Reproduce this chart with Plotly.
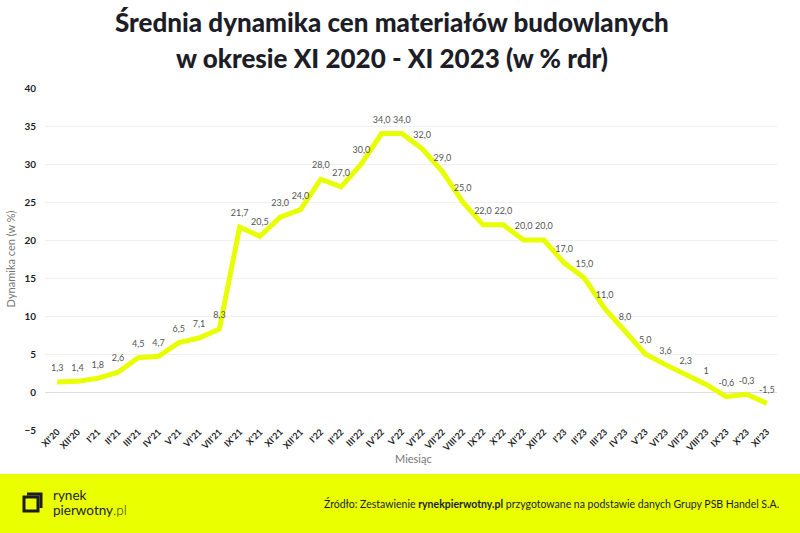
import plotly.graph_objects as go

miesiace = ["XI'20", "XII'20", "I'21", "II'21", "III'21", "IV'21", "V'21", "VI'21", "VII'21",
            "IX'21", "X'21", "XI'21", "XII'21", "I'22", "II'22", "III'22", "IV'22", "V'22",
            "VI'22", "VII'22", "VIII'22", "IX'22", "X'22", "XI'22", "XII'22", "I'23", "II'23",
            "III'23", "IV'23", "V'23", "VI'23", "VII'23", "VIII'23", "IX'23", "X'23", "XI'23"]
dynamika = [1.3, 1.4, 1.8, 2.6, 4.5, 4.7, 6.5, 7.1, 8.3, 21.7, 20.5, 23.0, 24.0, 28.0, 27.0,
            30.0, 34.0, 34.0, 32.0, 29.0, 25.0, 22.0, 22.0, 20.0, 20.0, 17.0, 15.0, 11.0, 8.0,
            5.0, 3.6, 2.3, 1.0, -0.6, -0.3, -1.5]
etykiety = ["1,3", "1,4", "1,8", "2,6", "4,5", "4,7", "6,5", "7,1", "8,3", "21,7", "20,5", "23,0",
            "24,0", "28,0", "27,0", "30,0", "34,0", "34,0", "32,0", "29,0", "25,0", "22,0", "22,0",
            "20,0", "20,0", "17,0", "15,0", "11,0", "8,0", "5,0", "3,6", "2,3", "1", "-0,6", "-0,3",
            "-1,5"]

W, H = 800, 533
L, R, T, B = 45, 23, 88, 103

def px(x):
    return (x - L) / (W - L - R)

def py(y):
    return (H - B - y) / (H - T - B)

ZOLTY = "#EAFF00"
CIEMNY = "#1d1d27"

fig = go.Figure()
fig.add_trace(go.Scatter(
    x=list(range(len(miesiace))), y=dynamika, mode="lines+markers+text",
    line=dict(color="#E8FF00", width=5), marker=dict(size=12, color="rgba(0,0,0,0)"),
    text=etykiety, textposition="top center",
    textfont=dict(family="Lato", size=9, color="#555555"), cliponaxis=False,
    hoverinfo="skip"))

fig.update_layout(
    width=W, height=H, margin=dict(l=L, r=R, t=T, b=B),
    paper_bgcolor="white", plot_bgcolor="white", showlegend=False,
    font=dict(family="Lato", color=CIEMNY),
)
fig.update_xaxes(
    tickmode="array", tickvals=list(range(len(miesiace))), ticktext=miesiace,
    tickangle=-45, tickfont=dict(family="Lato", size=9, color=CIEMNY, weight="bold"),
    ticklabelstandoff=-6,
    range=[-0.6, 35.5], showgrid=False, zeroline=False, showline=False)
fig.update_yaxes(
    range=[-5, 40], dtick=5, tickfont=dict(family="Lato", size=10, color=CIEMNY, weight="bold"),
    gridcolor="#f0f0f0", gridwidth=1, zeroline=True, zerolinecolor="#dddddd", zerolinewidth=1,
    ticklabelstandoff=8,
    title=dict(text="Dynamika cen (w %)", font=dict(family="Lato", size=11, color="#777777"), standoff=6))

# os X - podpis
fig.add_annotation(xref="paper", yref="paper", x=px(413), y=py(458), xanchor="center", yanchor="middle",
                   text="Miesiąc", showarrow=False, font=dict(family="Lato", size=11, color="#777777"))

# tytul
for tekst, yy in [("Średnia dynamika cen materiałów budowlanych", 22),
                  ("w okresie XI 2020 - XI 2023 (w % rdr)", 58)]:
    fig.add_annotation(xref="paper", yref="paper", x=px(392), y=py(yy), xanchor="center",
                       yanchor="middle", text=tekst, showarrow=False,
                       font=dict(family="Lato", size=26, color=CIEMNY, weight=900))

# stopka
fig.add_shape(type="rect", xref="paper", yref="paper", x0=px(0), x1=px(W), y0=py(474), y1=py(H),
              fillcolor=ZOLTY, line=dict(width=0), layer="below")
# logo
fig.add_shape(type="rect", xref="paper", yref="paper", x0=px(24), x1=px(38), y0=py(497), y1=py(511),
              line=dict(color=CIEMNY, width=3))
fig.add_shape(type="path", xref="paper", yref="paper",
              path="M %f %f L %f %f L %f %f" % (px(27), py(494), px(41), py(494), px(41), py(508)),
              line=dict(color=CIEMNY, width=3))
fig.add_annotation(xref="paper", yref="paper", x=px(51), y=py(495), xanchor="left", yanchor="middle",
                   text="rynek", showarrow=False, font=dict(family="Lato", size=13.5, color=CIEMNY))
fig.add_annotation(xref="paper", yref="paper", x=px(51), y=py(510), xanchor="left", yanchor="middle",
                   text="pierwotny<span style='font-weight:300'>.pl</span>", showarrow=False,
                   font=dict(family="Lato", size=13.5, color=CIEMNY))
fig.add_annotation(xref="paper", yref="paper", x=px(781), y=py(503), xanchor="right", yanchor="middle",
                   text="Źródło: Zestawienie <b>rynekpierwotny.pl</b> przygotowane na podstawie danych Grupy PSB Handel S.A.",
                   showarrow=False, font=dict(family="Lato", size=10.5, color=CIEMNY))

fig.write_html("out.html", config={"displayModeBar": False},
               post_script="document.body.style.margin='0';")
